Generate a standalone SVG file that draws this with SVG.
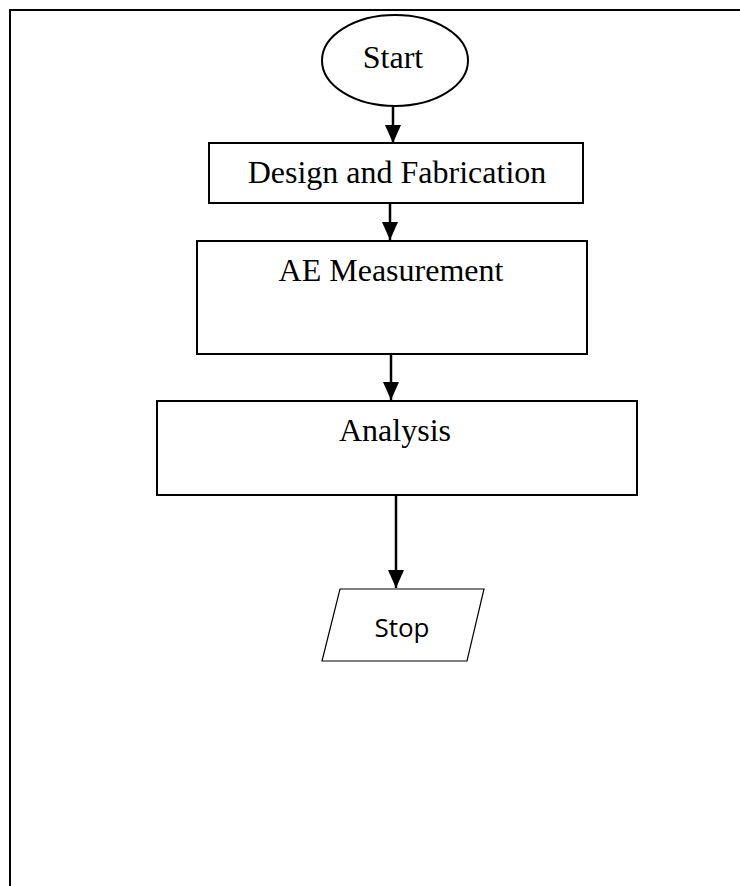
<svg xmlns="http://www.w3.org/2000/svg" width="740" height="886" viewBox="0 0 740 886">
<style>
.box{fill:#fff;stroke:#000;stroke-width:2}
.serif{font-family:"Liberation Serif","Times New Roman",serif;font-size:32px;fill:#000;text-anchor:middle}
.sans{font-family:"Open Sans","Noto Sans",sans-serif;font-size:26px;fill:#000;text-anchor:middle}
.conn{stroke:#000;stroke-width:2.5;fill:none;marker-end:url(#ah)}
.frame{stroke:#000;stroke-width:2;fill:none}
</style>
<defs>
<marker id="ah" markerUnits="userSpaceOnUse" markerWidth="18" markerHeight="16" viewBox="0 0 18 16" refX="18" refY="8" orient="auto">
<path d="M0,0 L18,8 L0,16 Z" fill="#000"/>
</marker>
</defs>
<rect width="740" height="886" fill="#fff"/>
<g id="frame">
<path class="frame" d="M10,886 L10,10 L740,10"/>
</g>
<g id="start">
<ellipse class="box" cx="395" cy="60.5" rx="73" ry="45.5"/>
<text class="serif" x="393" y="68">Start</text>
</g>
<g id="design">
<rect class="box" x="209" y="143" width="374" height="60"/>
<text class="serif" x="397" y="183">Design and Fabrication</text>
</g>
<g id="ae">
<rect class="box" x="197" y="241" width="390" height="113"/>
<text class="serif" x="391" y="281">AE Measurement</text>
</g>
<g id="analysis">
<rect class="box" x="157" y="401" width="480" height="94"/>
<text class="serif" x="395" y="441">Analysis</text>
</g>
<g id="stop">
<polygon class="box" style="stroke-width:1.2" points="340,589 484,589 467,661 322,661"/>
<text class="sans" x="402" y="637">Stop</text>
</g>
<g id="connectors">
<line class="conn" x1="393" y1="106" x2="393" y2="143"/>
<line class="conn" x1="390" y1="203" x2="390" y2="240"/>
<line class="conn" x1="391" y1="354" x2="391" y2="400"/>
<line class="conn" x1="396" y1="495" x2="396" y2="588"/>
</g>
</svg>
